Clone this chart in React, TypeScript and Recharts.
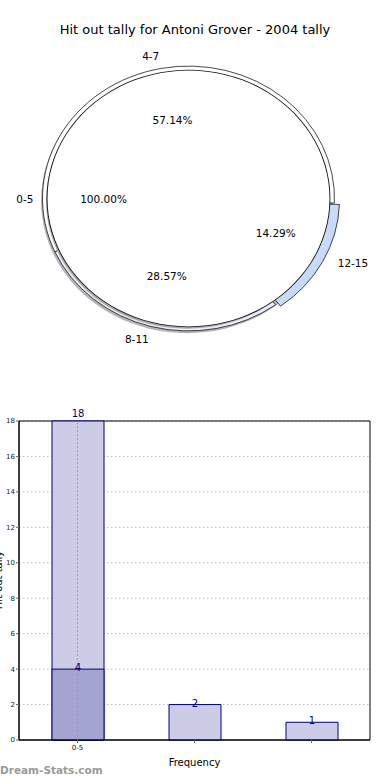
import {
  PieChart,
  Pie,
  Cell,
  BarChart,
  Bar,
  XAxis,
  YAxis,
  CartesianGrid,
  ReferenceLine,
  ReferenceArea,
  LabelList,
} from 'recharts';

const TITLE = 'Hit out tally for Antoni Grover - 2004 tally';

// pie: inner single slice + outer ring of three slices
const innerNames = ['0-5'];
const innerValues = [18];
const outerNames = ['4-7', '8-11', '12-15'];
const outerValues = [4, 2, 1];
const outerColors = ['#ffffff', '#e8eefe', '#c6dafc'];
const EXPLODED = '12-15';

// bars
const barCategories = ['0-5', '8-11', '12-15'];
const barTotals = [18, 2, 1];
const barHighlight = [4, null, null];
const yTicks = [0, 2, 4, 6, 8, 10, 12, 14, 16, 18];
const Y_MAX = 18;

const FONT = '"DejaVu Sans", Verdana, sans-serif';
const SQUASH = 0.907;
const CX = 188.5;
const CY = 198.5 / SQUASH;
const R_IN = 141;
const R_OUT = 146;
const RAD = Math.PI / 180;
const NAVY = '#000080';

const innerData = innerNames.map((name, i) => ({ name, value: innerValues[i] }));
const outerData = outerNames.map((name, i) => ({ name, value: outerValues[i] }));
const barData = barCategories.map((category, i) => ({
  category,
  total: barTotals[i],
  highlight: barHighlight[i],
}));

// text gets un-squashed so the ellipse doesn't flatten the glyphs
const Txt = ({ x, y, anchor, children }: any) => (
  <text
    transform={`translate(${x},${y}) scale(1,${1 / SQUASH})`}
    textAnchor={anchor}
    dominantBaseline="central"
    fontSize={10.5}
    fontFamily={FONT}
    fill="#000"
  >
    {children}
  </text>
);

const pieLabel = (p: any) => {
  const a = -p.midAngle * RAD;
  const cos = Math.cos(a);
  const sin = Math.sin(a);
  const boom = p.name === EXPLODED;
  const dx = boom ? 12 : 0;
  const dy = boom ? -3 : 0;
  return (
    <g>
      <Txt x={p.cx + 155 * cos + dx} y={p.cy + 160 * sin + dy} anchor={cos >= 0 ? 'start' : 'end'}>
        {p.name}
      </Txt>
      <Txt x={p.cx + 85 * cos + dx} y={p.cy + 88 * sin + dy} anchor="middle">
        {(p.percent * 100).toFixed(2) + '%'}
      </Txt>
    </g>
  );
};

const barLabel = (p: any) => {
  if (p.value == null) return null;
  const y = p.value >= Y_MAX ? p.y - 4 : p.y + 2;
  return (
    <text x={p.x + p.width / 2} y={y} textAnchor="middle" fontSize={10} fontFamily={FONT} fill={NAVY}>
      {p.value}
    </text>
  );
};

export default function App() {
  return (
    <div
      style={{
        position: 'absolute',
        left: 0,
        top: 0,
        width: 390,
        height: 780,
        background: '#fff',
        overflow: 'hidden',
        fontFamily: FONT,
      }}
    >
      <div
        style={{
          position: 'absolute',
          top: 22,
          left: 0,
          width: 390,
          textAlign: 'center',
          fontSize: 13,
          lineHeight: '16px',
          color: '#000',
        }}
      >
        {TITLE}
      </div>

      <div style={{ position: 'absolute', left: 0, top: 0, transform: `scaleY(${SQUASH})`, transformOrigin: '0 0' }}>
        <PieChart width={390} height={400} margin={{ top: 0, left: 0, right: 0, bottom: 0 }}>
          {/* soft shadow under the ring */}
          <Pie data={innerData} dataKey="value" cx={CX - 1.5} cy={CY + 2.5} outerRadius={R_OUT} startAngle={0} endAngle={360} isAnimationActive={false}>
            {innerData.map((d) => (
              <Cell key={d.name} fill="#b4b4b4" stroke="none" />
            ))}
          </Pie>
          <Pie data={outerData} dataKey="value" cx={CX} cy={CY} outerRadius={R_OUT} startAngle={-2} endAngle={358} isAnimationActive={false}>
            {outerData.map((d, i) => (
              <Cell key={d.name} fill={d.name === EXPLODED ? 'none' : outerColors[i]} stroke={d.name === EXPLODED ? 'none' : '#111'} strokeWidth={0.8} />
            ))}
          </Pie>
          <Pie data={outerData} dataKey="value" cx={CX + 5} cy={CY + 1.5} outerRadius={R_OUT} startAngle={-2} endAngle={358} isAnimationActive={false}>
            {outerData.map((d, i) => (
              <Cell key={d.name} fill={d.name === EXPLODED ? outerColors[i] : 'none'} stroke={d.name === EXPLODED ? '#111' : 'none'} strokeWidth={0.8} />
            ))}
          </Pie>
          {/* inner ellipse: shadow, dark rim, white face */}
          <Pie data={innerData} dataKey="value" cx={CX - 1.5} cy={CY + 2.5} outerRadius={R_IN} startAngle={0} endAngle={360} isAnimationActive={false}>
            {innerData.map((d) => (
              <Cell key={d.name} fill="#a8a8a8" stroke="none" />
            ))}
          </Pie>
          <Pie data={innerData} dataKey="value" cx={CX} cy={CY} outerRadius={R_IN + 0.9} startAngle={0} endAngle={360} isAnimationActive={false}>
            {innerData.map((d) => (
              <Cell key={d.name} fill="#111" stroke="none" />
            ))}
          </Pie>
          <Pie
            data={innerData}
            dataKey="value"
            cx={CX}
            cy={CY}
            outerRadius={R_IN}
            startAngle={0}
            endAngle={360}
            label={pieLabel}
            labelLine={false}
            isAnimationActive={false}
          >
            {innerData.map((d) => (
              <Cell key={d.name} fill="#fff" stroke="none" />
            ))}
          </Pie>
          {/* labels for the outer ring, drawn last so nothing covers them */}
          <Pie
            data={outerData}
            dataKey="value"
            cx={CX}
            cy={CY}
            outerRadius={R_OUT}
            startAngle={-2}
            endAngle={358}
            label={pieLabel}
            labelLine={false}
            isAnimationActive={false}
          >
            {outerData.map((d) => (
              <Cell key={d.name} fill="none" stroke="none" />
            ))}
          </Pie>
        </PieChart>
      </div>

      <div style={{ position: 'absolute', left: 0, top: 400 }}>
        <BarChart width={390} height={380} data={barData} margin={{ top: 21, right: 20, left: 0, bottom: 0 }}>
          <CartesianGrid xAxisId="main" vertical={false} stroke="#bbb" strokeDasharray="1.5 2.5" />
          <XAxis
            xAxisId="main"
            dataKey="category"
            height={40}
            interval={0}
            tickSize={3}
            tick={{ fontSize: 7, fill: '#222', fontFamily: FONT }}
            tickFormatter={(v: string, i: number) => (i === 0 ? v : '')}
            axisLine={{ stroke: '#000' }}
            tickLine={{ stroke: '#666' }}
            label={{ value: 'Frequency', position: 'insideBottom', offset: 14, fontSize: 10, fill: '#000', fontFamily: FONT }}
          />
          <XAxis xAxisId="over" dataKey="category" hide />
          <YAxis
            width={19}
            domain={[0, Y_MAX]}
            ticks={yTicks}
            interval={0}
            tickSize={3}
            tickMargin={1}
            tick={{ fontSize: 7, fill: '#222', fontFamily: FONT }}
            axisLine={{ stroke: '#000' }}
            tickLine={{ stroke: '#666' }}
          />
          <Bar xAxisId="main" dataKey="total" barSize={52} fill="#cccce6" stroke={NAVY} strokeWidth={1} isAnimationActive={false}>
            <LabelList dataKey="total" content={barLabel} />
          </Bar>
          <Bar xAxisId="over" dataKey="highlight" barSize={52} fill="#a3a5d0" stroke={NAVY} strokeWidth={1} isAnimationActive={false}>
            <LabelList dataKey="highlight" content={barLabel} />
          </Bar>
          <ReferenceLine xAxisId="main" x="0-5" stroke="#999" strokeDasharray="1.5 2.5" />
          <ReferenceArea xAxisId="main" y1={0} y2={Y_MAX} fill="none" stroke="#000" strokeWidth={1} />
        </BarChart>
      </div>

      <div
        style={{
          position: 'absolute',
          left: -41,
          top: 574,
          width: 80,
          textAlign: 'center',
          fontSize: 10,
          lineHeight: '12px',
          transform: 'rotate(-90deg)',
          color: '#000',
        }}
      >
        Hit out tally
      </div>

      <div
        style={{
          position: 'absolute',
          left: 0,
          top: 763,
          fontSize: 10.5,
          lineHeight: '14px',
          fontWeight: 'bold',
          color: '#9a9a9a',
        }}
      >
        Dream-Stats.com
      </div>
    </div>
  );
}
